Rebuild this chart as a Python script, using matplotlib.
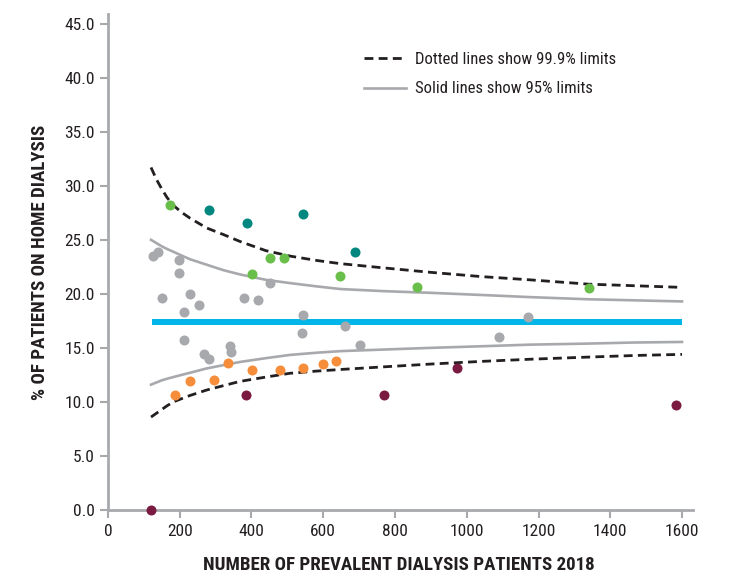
import matplotlib
matplotlib.use("Agg")
import matplotlib.pyplot as plt
from matplotlib import font_manager as fm
from matplotlib.lines import Line2D

# pick a narrow face if one is installed
fonts = fm.fontManager.ttflist
names = {f.name for f in fonts}
narrow = [f.name for f in fonts
          if str(f.stretch) in ('condensed', 'semi-condensed', 'extra-condensed') or
          (isinstance(f.stretch, int) and f.stretch < 500)]
FONT, STRETCH, SCALE = 'DejaVu Sans', 'normal', 0.8
for cand in ['Liberation Sans Narrow', 'Roboto Condensed', 'Open Sans Condensed', 'DejaVu Sans Condensed']:
    if cand in names:
        FONT, SCALE = cand, 1.0
        break
else:
    if 'DejaVu Sans' in narrow:
        FONT, STRETCH, SCALE = 'DejaVu Sans', 'condensed', 0.95
    elif narrow:
        FONT, STRETCH, SCALE = narrow[0], 'condensed', 1.0
plt.rcParams['font.family'] = [FONT, 'DejaVu Sans']
plt.rcParams['font.stretch'] = STRETCH

# points by group (x = prevalent patients, y = % on home dialysis)
grey_x = [126, 140, 198, 198, 151, 229, 255, 212, 379, 418, 453, 544, 541, 660,
          212, 268, 281, 340, 344, 702, 1091, 1172]
grey_y = [23.5, 23.9, 23.1, 21.9, 19.6, 20.0, 19.0, 18.3, 19.6, 19.4, 21.0, 18.0, 16.4, 17.0,
          15.7, 14.4, 14.0, 15.2, 14.6, 15.3, 16.0, 17.9]
green_x = [173, 453, 491, 401, 647, 861, 1340]
green_y = [28.2, 23.3, 23.3, 21.8, 21.7, 20.6, 20.5]
teal_x = [281, 387, 544, 689]
teal_y = [27.8, 26.6, 27.4, 23.9]
orange_x = [186, 229, 295, 335, 401, 479, 544, 600, 635]
orange_y = [10.6, 11.9, 12.0, 13.6, 13.0, 13.0, 13.1, 13.5, 13.8]
maroon_x = [120, 384, 770, 972, 1583]
maroon_y = [0.0, 10.6, 10.6, 13.1, 9.75]

# control limits
limit_x = [120, 135, 150, 165, 182, 205, 229, 275, 321, 368, 440, 507, 580, 647, 770, 897, 1040, 1176, 1339, 1470, 1600]
upper_999 = [31.7, 30.6, 29.7, 28.9, 28.2, 27.55, 27.0, 26.1, 25.5, 24.85, 24.0, 23.5, 23.1, 22.8, 22.4, 22.0, 21.6, 21.3, 20.9, 20.75, 20.6]
upper_95 = [25.0, 24.7, 24.4, 24.15, 23.9, 23.55, 23.2, 22.7, 22.2, 21.8, 21.3, 21.0, 20.7, 20.45, 20.25, 20.1, 19.9, 19.7, 19.5, 19.4, 19.3]
lower_95 = [11.6, 11.8, 12.0, 12.15, 12.3, 12.5, 12.7, 13.1, 13.4, 13.7, 14.05, 14.35, 14.55, 14.7, 14.85, 15.0, 15.15, 15.3, 15.4, 15.5, 15.55]
lower_999 = [8.6, 8.95, 9.3, 9.65, 10.0, 10.3, 10.6, 11.1, 11.5, 11.9, 12.3, 12.65, 12.85, 13.0, 13.25, 13.5, 13.75, 13.95, 14.15, 14.3, 14.4]
mean_x = [122, 1600]
mean_y = [17.4, 17.4]

GREY = '#a7a9ac'
INK = '#231f20'
DASH = (3.2, 1.9)

fig = plt.figure(figsize=(7.37, 5.79), dpi=100)
ax = fig.add_axes([0.1465, 0.1192, 0.7935, 0.8566])

ax.plot(limit_x, upper_999, color=INK, lw=2.0, dashes=DASH)
ax.plot(limit_x, lower_999, color=INK, lw=2.0, dashes=DASH)
ax.plot(limit_x, upper_95, color=GREY, lw=1.9)
ax.plot(limit_x, lower_95, color=GREY, lw=1.9)
ax.plot(mean_x, mean_y, color='#00b5e8', lw=4.3, solid_capstyle='butt')

dot = dict(s=52, linewidths=0, zorder=3)
ax.scatter(grey_x, grey_y, color=GREY, **dot)
ax.scatter(green_x, green_y, color='#6abf4b', **dot)
ax.scatter(teal_x, teal_y, color='#00877f', **dot)
ax.scatter(orange_x, orange_y, color='#f58d3b', **dot)
ax.scatter(maroon_x, maroon_y, color='#7b1a40', clip_on=False, **dot)

ax.set_xlim(0, 1630)
ax.set_ylim(0, 45.9)
ax.set_xticks(range(0, 1601, 200))
ax.set_yticks([i * 5 for i in range(10)])
ax.set_yticklabels([f'{i * 5:.1f}' for i in range(10)])

for s in ['top', 'right']:
    ax.spines[s].set_visible(False)
for s in ['left', 'bottom']:
    ax.spines[s].set_color(GREY)
    ax.spines[s].set_linewidth(2)
ax.tick_params(colors=GREY, width=1.5, length=6, labelcolor=INK, labelsize=12.5 * SCALE)
ax.tick_params(axis='x', pad=4)

ax.set_xlabel('NUMBER OF PREVALENT DIALYSIS PATIENTS 2018', fontsize=13.6 * SCALE,
              fontweight='bold', color=INK, va='center')
ax.xaxis.set_label_coords(0.497, -0.111)
ax.set_ylabel('% OF PATIENTS ON HOME DIALYSIS', fontsize=13.6 * SCALE,
              fontweight='bold', color=INK, va='center')
ax.yaxis.set_label_coords(-0.116, 0.5)

handles = [Line2D([], [], color=INK, lw=2.0, dashes=DASH),
           Line2D([], [], color=GREY, lw=1.9)]
ax.legend(handles, ['Dotted lines show 99.9% limits', 'Solid lines show 95% limits'],
          loc='upper left', bbox_to_anchor=(0.412, 0.953), frameon=False,
          fontsize=12 * SCALE, handlelength=2.5, handletextpad=0.55, labelspacing=0.85,
          labelcolor=INK)

fig.savefig('out.png', dpi=100)
